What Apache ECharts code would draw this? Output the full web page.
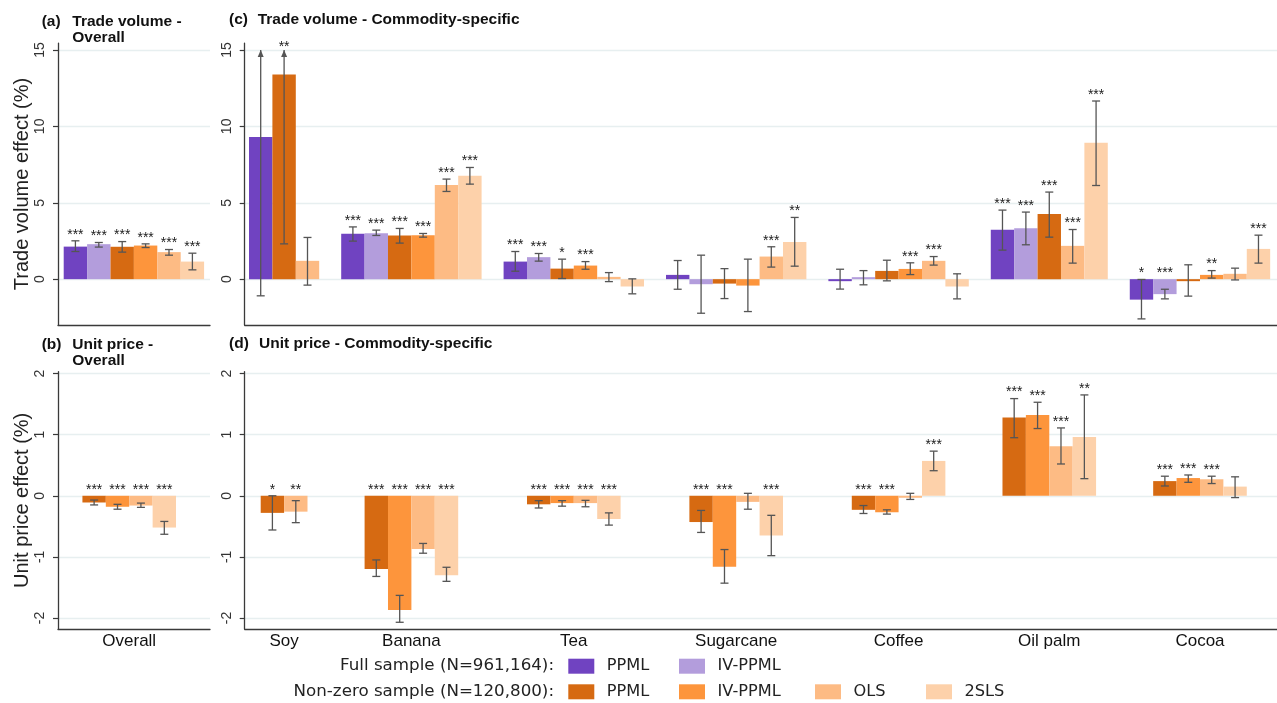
<!DOCTYPE html>
<html>
<head>
<meta charset="utf-8">
<title>Trade volume and unit price effects</title>
<script src="https://cdn.jsdelivr.net/npm/echarts@6/dist/echarts.min.js"></script>
<style>
  html, body { margin: 0; padding: 0; background: #ffffff; }
  #chart { width: 1277px; height: 703px; }
</style>
</head>
<body>
<div id="chart"></div>
<script>
// ---------------------------------------------------------------------------
// Data
// ---------------------------------------------------------------------------
const commodities = ['Soy', 'Banana', 'Tea', 'Sugarcane', 'Coffee', 'Oil palm', 'Cocoa'];
const overallLabel = ['Overall'];

const modelNames = [
  'Full sample PPML', 'Full sample IV-PPML',
  'Non-zero sample PPML', 'Non-zero sample IV-PPML', 'Non-zero sample OLS', 'Non-zero sample 2SLS'
];
const modelLabels = ['PPML', 'IV-PPML', 'PPML', 'IV-PPML', 'OLS', '2SLS'];
const modelColors = ['#7043c1', '#b39ddc', '#d66a12', '#fd953c', '#fdbb84', '#fdd1aa'];

const volumeTicks = [0, 5, 10, 15];
const priceTicks = [-2, -1, 0, 1, 2];

const legendRows = ['Full sample (N=961,164):', 'Non-zero sample (N=120,800):'];

// Each entry: [estimate, CI low, CI high, significance stars]; null = not estimated.
// Trade volume effect (%), all commodities pooled, one entry per model
const volumeOverall = [
  [2.13, 1.81, 2.51, '***'],
  [2.29, 2.10, 2.40, '***'],
  [2.12, 1.77, 2.46, '***'],
  [2.20, 2.07, 2.31, '***'],
  [1.77, 1.57, 1.94, '***'],
  [1.15, 0.61, 1.70, '***']
];
// Unit price effect (%), pooled, one entry per model
const priceOverall = [
  null,
  null,
  [-0.11, -0.15, -0.07, '***'],
  [-0.18, -0.22, -0.14, '***'],
  [-0.16, -0.19, -0.12, '***'],
  [-0.52, -0.63, -0.42, '***']
];

// Trade volume effect (%) by commodity (Soy, Banana, Tea, Sugarcane, Coffee, Oil palm, Cocoa)
const volFullPPML = [
  [9.30, -1.09, 19.7, ''], [2.97, 2.49, 3.42, '***'], [1.15, 0.52, 1.81, '***'],
  [0.28, -0.66, 1.22, ''], [-0.05, -0.65, 0.65, ''], [3.23, 1.90, 4.52, '***'], [-1.34, -2.60, -0.02, '*']
];
const volFullIV = [
  null, [3.01, 2.86, 3.21, '***'], [1.44, 1.18, 1.68, '***'],
  [-0.33, -2.23, 1.57, ''], [0.08, -0.37, 0.56, ''], [3.34, 2.25, 4.39, '***'], [-0.98, -1.29, -0.66, '***']
];
const volNzPPML = [
  [13.4, 2.31, 24.5, '**'], [2.86, 2.36, 3.32, '***'], [0.69, 0.04, 1.31, '*'],
  [-0.29, -1.27, 0.69, ''], [0.54, -0.11, 1.24, ''], [4.26, 2.75, 5.70, '***'], [-0.10, -1.11, 0.94, '']
];
const volNzIV = [
  null, [2.88, 2.75, 2.99, '***'], [0.89, 0.65, 1.15, '***'],
  [-0.42, -2.12, 1.31, ''], [0.67, 0.30, 1.07, '***'], null, [0.28, 0.07, 0.56, '**']
];
const volOLS = [
  [1.20, -0.39, 2.73, ''], [6.16, 5.74, 6.55, '***'], [0.15, -0.16, 0.43, ''],
  [1.48, 0.79, 2.12, '***'], [1.20, 0.92, 1.48, '***'], [2.18, 1.05, 3.25, '***'], [0.35, -0.05, 0.72, '']
];
const vol2SLS = [
  null, [6.77, 6.22, 7.31, '***'], [-0.48, -0.96, 0.02, ''],
  [2.44, 0.85, 4.04, '**'], [-0.48, -1.29, 0.35, ''], [8.93, 6.13, 11.66, '***'], [1.98, 1.05, 2.88, '***']
];

// Unit price effect (%) by commodity, non-zero sample only
const priceNzPPML = [
  [-0.28, -0.56, 0.00, '*'], [-1.20, -1.32, -1.05, '***'], [-0.14, -0.20, -0.08, '***'],
  [-0.43, -0.60, -0.24, '***'], [-0.23, -0.29, -0.16, '***'], [1.28, 0.95, 1.59, '***'], [0.24, 0.16, 0.32, '***']
];
const priceNzIV = [
  null, [-1.87, -2.07, -1.63, '***'], [-0.12, -0.17, -0.08, '***'],
  [-1.16, -1.43, -0.88, '***'], [-0.27, -0.30, -0.23, '***'], [1.32, 1.10, 1.53, '***'], [0.29, 0.22, 0.34, '***']
];
const priceOLS = [
  [-0.26, -0.44, -0.08, '**'], [-0.87, -0.94, -0.78, '***'], [-0.12, -0.18, -0.075, '***'],
  [-0.10, -0.22, 0.04, ''], [-0.02, -0.06, 0.04, ''], [0.81, 0.52, 1.11, '***'], [0.27, 0.20, 0.32, '***']
];
const price2SLS = [
  null, [-1.30, -1.40, -1.17, '***'], [-0.38, -0.48, -0.28, '***'],
  [-0.65, -0.98, -0.32, '***'], [0.57, 0.41, 0.73, '***'], [0.96, 0.28, 1.65, '**'], [0.15, -0.03, 0.31, '']
];

// ---------------------------------------------------------------------------
// Layout and style
// ---------------------------------------------------------------------------
const SLOT = 23.4;          // pixel width of one bar
const GROUP_GAP = 0.94;     // empty space between commodity groups, in bars
const SANS = '"Liberation Sans", Arial, sans-serif';
const LEGEND_FONT = '"DejaVu Sans", Verdana, sans-serif';
const AXIS_COLOR = '#3a3a3a';
const GRID_COLOR = '#e7eff0';
const ERR_COLOR = '#555555';
const CAP = 4;

const gridBoxes = [
  { left: 58,    top: 43.1,  width: 152,    height: 281.9 },   // (a)
  { left: 244.7, top: 43.1,  width: 1032.3, height: 281.9 },   // (c)
  { left: 58,    top: 371.7, width: 152,    height: 257.3 },   // (b)
  { left: 244.7, top: 371.7, width: 1032.3, height: 257.3 }    // (d)
];
const leftPadPx = [5.7, 4.3, 5.7, 4.3];
const volumeRange = [-3, 15.45];
const priceRange = [-2.18, 2.03];
const overallPriceShift = -0.2;   // pooled unit-price bars sit slightly left of the panel centre
const legendColumnsX = [568.3, 679, 815, 926];
const legendRowsY = [665.7, 691.3];

// ---------------------------------------------------------------------------
// Bar placement: pack the estimated models of each group side by side
// ---------------------------------------------------------------------------
function packGroups(byModel, nGroups) {
  const pos = byModel.map(() => []);
  const centers = [];
  let cursor = -GROUP_GAP;
  for (let g = 0; g < nGroups; g++) {
    cursor += GROUP_GAP;
    const start = cursor;
    byModel.forEach((arr, m) => {
      if (arr && arr[g]) { pos[m][g] = cursor; cursor += 1; }
    });
    centers.push((start + cursor - 1) / 2);
  }
  return { pos, centers };
}

function centerGroups(byModel, centers) {
  const pos = byModel.map(() => []);
  centers.forEach((c, g) => {
    const present = [];
    byModel.forEach((arr, m) => { if (arr && arr[g]) present.push(m); });
    present.forEach((m, k) => { pos[m][g] = c + k - (present.length - 1) / 2; });
  });
  return pos;
}

const volOverallByModel = volumeOverall.map(d => (d ? [d] : null));
const priceOverallByModel = priceOverall.map(d => (d ? [d] : null));
const volByModel = [volFullPPML, volFullIV, volNzPPML, volNzIV, volOLS, vol2SLS];
const priceByModel = [null, null, priceNzPPML, priceNzIV, priceOLS, price2SLS];

const overallPack = packGroups(volOverallByModel, 1);
const overallPriceCenters = overallPack.centers.map(c => c + overallPriceShift);
const overallPricePos = centerGroups(priceOverallByModel, overallPriceCenters);
const commodityPack = packGroups(volByModel, commodities.length);
const commodityPricePos = centerGroups(priceByModel, commodityPack.centers);

function xRange(gi) {
  const min = -0.5 - leftPadPx[gi] / SLOT;
  return [min, min + gridBoxes[gi].width / SLOT];
}

// ---------------------------------------------------------------------------
// Series builders
// ---------------------------------------------------------------------------
function errorBarSeries(gi, items, clipTop) {
  return {
    type: 'custom',
    xAxisIndex: gi,
    yAxisIndex: gi,
    z: 5,
    silent: true,
    data: items.map(it => [it.x, it.lo, it.hi]),
    encode: { x: 0, y: [1, 2] },
    renderItem: function (params, api) {
      const it = items[params.dataIndex];
      const clipped = it.hi > clipTop;
      const top = clipped ? clipTop : it.hi;
      const a = api.coord([it.x, it.lo]);
      const b = api.coord([it.x, top]);
      const st = { stroke: ERR_COLOR, lineWidth: 1.3 };
      const kids = [
        { type: 'line', shape: { x1: a[0], y1: a[1], x2: b[0], y2: b[1] }, style: st },
        { type: 'line', shape: { x1: a[0] - CAP, y1: a[1], x2: a[0] + CAP, y2: a[1] }, style: st }
      ];
      if (clipped) {
        kids.push({
          type: 'polygon',
          shape: { points: [[b[0], b[1]], [b[0] - 3, b[1] + 7], [b[0] + 3, b[1] + 7]] },
          style: { fill: ERR_COLOR }
        });
      } else {
        kids.push({ type: 'line', shape: { x1: b[0] - CAP, y1: b[1], x2: b[0] + CAP, y2: b[1] }, style: st });
      }
      if (it.stars) {
        const anchor = api.coord([it.x, Math.max(top, 0)]);
        kids.push({
          type: 'text',
          x: anchor[0],
          y: anchor[1] - (clipped ? 3 : 6),
          style: {
            text: it.stars,
            align: 'center',
            verticalAlign: 'middle',
            font: '14px ' + SANS,
            fill: '#1a1a1a'
          }
        });
      }
      return { type: 'group', children: kids };
    }
  };
}

function panelSeries(gi, byModel, pos, clipTop) {
  const out = [];
  const errItems = [];
  byModel.forEach((arr, m) => {
    if (!arr) return;
    const data = [];
    arr.forEach((d, g) => {
      if (!d) return;
      const x = pos[m][g];
      data.push([x, d[0]]);
      errItems.push({ x: x, lo: d[1], hi: d[2], stars: d[3] });
    });
    out.push({
      type: 'bar',
      name: modelNames[m],
      xAxisIndex: gi,
      yAxisIndex: gi,
      data: data,
      barWidth: '100%',
      barGap: '-100%',
      barMinHeight: 2,
      itemStyle: { color: modelColors[m] },
      emphasis: { disabled: true },
      z: 2
    });
  });
  out.push(errorBarSeries(gi, errItems, clipTop));
  return out;
}

// ---------------------------------------------------------------------------
// Axes
// ---------------------------------------------------------------------------
function yAxis(gi, range, ticks, name) {
  const ax = {
    type: 'value',
    gridIndex: gi,
    min: range[0],
    max: range[1],
    axisLine: { show: true, onZero: false, lineStyle: { color: AXIS_COLOR, width: 1.3 } },
    axisTick: { show: true, length: 5, customValues: ticks, lineStyle: { color: AXIS_COLOR, width: 1.2 } },
    axisLabel: {
      customValues: ticks, rotate: 90, margin: 11,
      fontFamily: SANS, fontSize: 14, color: '#333333'
    },
    splitLine: { show: true, lineStyle: { color: GRID_COLOR, width: 1.3 } }
  };
  if (name) {
    ax.name = name;
    ax.nameLocation = 'middle';
    ax.nameGap = 26;
    ax.nameMoveOverlap = false;
    ax.nameTextStyle = { fontFamily: SANS, fontSize: 20, color: '#222222' };
  }
  return ax;
}

function xAxis(gi, centers, names) {
  const r = xRange(gi);
  const ax = {
    type: 'value',
    gridIndex: gi,
    min: r[0],
    max: r[1],
    axisLine: { show: true, onZero: false, lineStyle: { color: AXIS_COLOR, width: 1.3 } },
    axisTick: { show: false },
    splitLine: { show: false },
    axisLabel: { show: false }
  };
  if (names) {
    ax.axisLabel = {
      show: true,
      customValues: centers,
      margin: 4,
      fontFamily: SANS,
      fontSize: 17,
      color: '#111111',
      formatter: function (v) {
        let best = 0;
        centers.forEach((c, i) => { if (Math.abs(c - v) < Math.abs(centers[best] - v)) best = i; });
        return names[best];
      }
    };
  }
  return ax;
}

// ---------------------------------------------------------------------------
// Titles, legend
// ---------------------------------------------------------------------------
const titleStyle = { fontFamily: SANS, fontSize: 15.5, fontWeight: 'bold', color: '#111111', lineHeight: 16.5 };
const titles = [
  { text: '(a)', left: 41.7, top: 13 },
  { text: 'Trade volume -\nOverall', left: 72.3, top: 13 },
  { text: '(c)', left: 229, top: 11.5 },
  { text: 'Trade volume - Commodity-specific', left: 257.7, top: 11.5 },
  { text: '(b)', left: 41.7, top: 336.4 },
  { text: 'Unit price -\nOverall', left: 72.3, top: 336.4 },
  { text: '(d)', left: 229, top: 335 },
  { text: 'Unit price - Commodity-specific', left: 259, top: 335 }
].map(t => Object.assign({ padding: 0, textStyle: titleStyle }, t));

const legendLayout = [
  { model: 0, row: 0, col: 0 }, { model: 1, row: 0, col: 1 },
  { model: 2, row: 1, col: 0 }, { model: 3, row: 1, col: 1 },
  { model: 4, row: 1, col: 2 }, { model: 5, row: 1, col: 3 }
];
const legends = legendLayout.map(l => ({
  data: [modelNames[l.model]],
  left: legendColumnsX[l.col],
  top: legendRowsY[l.row] - 7.5,
  padding: 0,
  itemGap: 0,
  itemWidth: 26,
  itemHeight: 15,
  icon: 'rect',
  selectedMode: false,
  formatter: function (n) { return modelLabels[modelNames.indexOf(n)]; },
  textStyle: { fontFamily: LEGEND_FONT, fontSize: 16.2, color: '#222222', lineHeight: 15, padding: [0, 0, 0, 7.5] }
}));

const rowLabels = legendRows.map((txt, i) => ({
  type: 'text',
  x: 554,
  y: legendRowsY[i],
  style: {
    text: txt,
    align: 'right',
    verticalAlign: 'middle',
    font: '16.7px ' + LEGEND_FONT,
    fill: '#222222'
  }
}));

// ---------------------------------------------------------------------------
// Chart
// ---------------------------------------------------------------------------
const chart = echarts.init(document.getElementById('chart'), null, { renderer: 'canvas' });

const series = [].concat(
  panelSeries(0, volOverallByModel, overallPack.pos, volumeTicks[volumeTicks.length - 1]),
  panelSeries(1, volByModel, commodityPack.pos, volumeTicks[volumeTicks.length - 1]),
  panelSeries(2, priceOverallByModel, overallPricePos, Infinity),
  panelSeries(3, priceByModel, commodityPricePos, Infinity)
);

chart.setOption({
  animation: false,
  backgroundColor: '#ffffff',
  textStyle: { fontFamily: SANS },
  title: titles,
  legend: legends,
  graphic: rowLabels,
  grid: gridBoxes.map(b => Object.assign({ containLabel: false, outerBoundsMode: 'none' }, b)),
  xAxis: [
    xAxis(0, overallPack.centers, null),
    xAxis(1, commodityPack.centers, null),
    xAxis(2, overallPriceCenters, overallLabel),
    xAxis(3, commodityPack.centers, commodities)
  ],
  yAxis: [
    yAxis(0, volumeRange, volumeTicks, 'Trade volume effect (%)'),
    yAxis(1, volumeRange, volumeTicks, null),
    yAxis(2, priceRange, priceTicks, 'Unit price effect (%)'),
    yAxis(3, priceRange, priceTicks, null)
  ],
  series: series
});
</script>
</body>
</html>
